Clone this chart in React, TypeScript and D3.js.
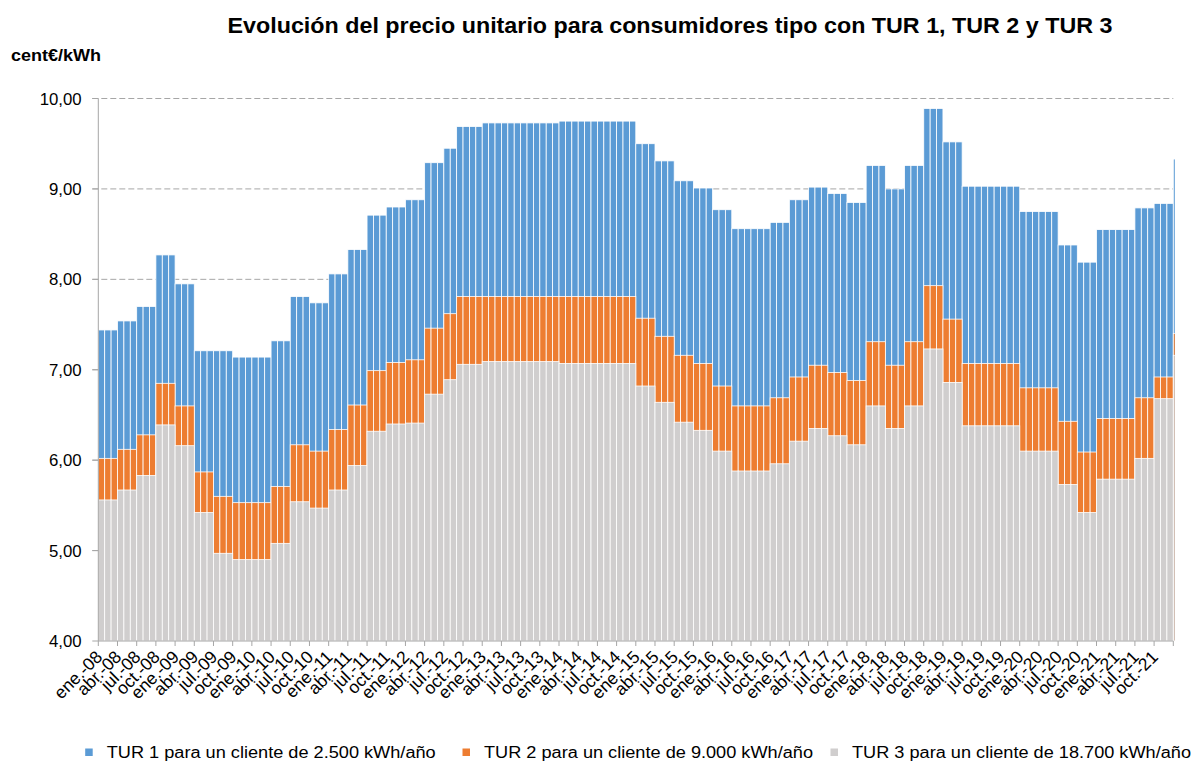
import React from 'react';
import * as d3 from 'd3';

const monthNames = ['ene.', 'feb.', 'mar.', 'abr.', 'may.', 'jun.', 'jul.', 'ago.', 'sep.', 'oct.', 'nov.', 'dic.'];
const years = ['08', '09', '10', '11', '12', '13', '14', '15', '16', '17', '18', '19', '20', '21', '22'];
const months: string[] = years.flatMap((y) => monthNames.map((m) => `${m}-${y}`)).slice(0, 169);

// TUR 1 – 2.500 kWh/año (cent€/kWh), monthly
const tur1 = [
  7.44, 7.44, 7.44, 7.54, 7.54, 7.54, 7.70, 7.70, 7.70, 8.27, 8.27, 8.27,
  7.95, 7.95, 7.95, 7.21, 7.21, 7.21, 7.21, 7.21, 7.21, 7.14, 7.14, 7.14,
  7.14, 7.14, 7.14, 7.32, 7.32, 7.32, 7.81, 7.81, 7.81, 7.74, 7.74, 7.74,
  8.06, 8.06, 8.06, 8.33, 8.33, 8.33, 8.71, 8.71, 8.71, 8.80, 8.80, 8.80,
  8.88, 8.88, 8.88, 9.29, 9.29, 9.29, 9.45, 9.45, 9.69, 9.69, 9.69, 9.69,
  9.73, 9.73, 9.73, 9.73, 9.73, 9.73, 9.73, 9.73, 9.73, 9.73, 9.73, 9.73,
  9.75, 9.75, 9.75, 9.75, 9.75, 9.75, 9.75, 9.75, 9.75, 9.75, 9.75, 9.75,
  9.50, 9.50, 9.50, 9.31, 9.31, 9.31, 9.09, 9.09, 9.09, 9.01, 9.01, 9.01,
  8.77, 8.77, 8.77, 8.56, 8.56, 8.56, 8.56, 8.56, 8.56, 8.63, 8.63, 8.63,
  8.88, 8.88, 8.88, 9.02, 9.02, 9.02, 8.95, 8.95, 8.95, 8.85, 8.85, 8.85,
  9.26, 9.26, 9.26, 9.00, 9.00, 9.00, 9.26, 9.26, 9.26, 9.89, 9.89, 9.89,
  9.52, 9.52, 9.52, 9.03, 9.03, 9.03, 9.03, 9.03, 9.03, 9.03, 9.03, 9.03,
  8.75, 8.75, 8.75, 8.75, 8.75, 8.75, 8.38, 8.38, 8.38, 8.19, 8.19, 8.19,
  8.55, 8.55, 8.55, 8.55, 8.55, 8.55, 8.79, 8.79, 8.79, 8.84, 8.84, 8.84,
  9.33,
];

// TUR 2 – 9.000 kWh/año
const tur2 = [
  6.02, 6.02, 6.02, 6.12, 6.12, 6.12, 6.28, 6.28, 6.28, 6.85, 6.85, 6.85,
  6.60, 6.60, 6.60, 5.87, 5.87, 5.87, 5.60, 5.60, 5.60, 5.53, 5.53, 5.53,
  5.53, 5.53, 5.53, 5.71, 5.71, 5.71, 6.17, 6.17, 6.17, 6.10, 6.10, 6.10,
  6.34, 6.34, 6.34, 6.61, 6.61, 6.61, 6.99, 6.99, 6.99, 7.08, 7.08, 7.08,
  7.11, 7.11, 7.11, 7.46, 7.46, 7.46, 7.62, 7.62, 7.81, 7.81, 7.81, 7.81,
  7.81, 7.81, 7.81, 7.81, 7.81, 7.81, 7.81, 7.81, 7.81, 7.81, 7.81, 7.81,
  7.81, 7.81, 7.81, 7.81, 7.81, 7.81, 7.81, 7.81, 7.81, 7.81, 7.81, 7.81,
  7.57, 7.57, 7.57, 7.37, 7.37, 7.37, 7.16, 7.16, 7.16, 7.07, 7.07, 7.07,
  6.82, 6.82, 6.82, 6.60, 6.60, 6.60, 6.60, 6.60, 6.60, 6.69, 6.69, 6.69,
  6.92, 6.92, 6.92, 7.05, 7.05, 7.05, 6.97, 6.97, 6.97, 6.88, 6.88, 6.88,
  7.31, 7.31, 7.31, 7.05, 7.05, 7.05, 7.31, 7.31, 7.31, 7.93, 7.93, 7.93,
  7.56, 7.56, 7.56, 7.07, 7.07, 7.07, 7.07, 7.07, 7.07, 7.07, 7.07, 7.07,
  6.80, 6.80, 6.80, 6.80, 6.80, 6.80, 6.43, 6.43, 6.43, 6.09, 6.09, 6.09,
  6.46, 6.46, 6.46, 6.46, 6.46, 6.46, 6.69, 6.69, 6.69, 6.92, 6.92, 6.92,
  7.40,
];

// TUR 3 – 18.700 kWh/año
const tur3 = [
  5.56, 5.56, 5.56, 5.67, 5.67, 5.67, 5.83, 5.83, 5.83, 6.39, 6.39, 6.39,
  6.16, 6.16, 6.16, 5.42, 5.42, 5.42, 4.97, 4.97, 4.97, 4.90, 4.90, 4.90,
  4.90, 4.90, 4.90, 5.08, 5.08, 5.08, 5.54, 5.54, 5.54, 5.47, 5.47, 5.47,
  5.67, 5.67, 5.67, 5.94, 5.94, 5.94, 6.32, 6.32, 6.32, 6.40, 6.40, 6.40,
  6.41, 6.41, 6.41, 6.73, 6.73, 6.73, 6.89, 6.89, 7.06, 7.06, 7.06, 7.06,
  7.09, 7.09, 7.09, 7.09, 7.09, 7.09, 7.09, 7.09, 7.09, 7.09, 7.09, 7.09,
  7.07, 7.07, 7.07, 7.07, 7.07, 7.07, 7.07, 7.07, 7.07, 7.07, 7.07, 7.07,
  6.82, 6.82, 6.82, 6.64, 6.64, 6.64, 6.42, 6.42, 6.42, 6.33, 6.33, 6.33,
  6.10, 6.10, 6.10, 5.88, 5.88, 5.88, 5.88, 5.88, 5.88, 5.96, 5.96, 5.96,
  6.21, 6.21, 6.21, 6.35, 6.35, 6.35, 6.27, 6.27, 6.27, 6.17, 6.17, 6.17,
  6.60, 6.60, 6.60, 6.35, 6.35, 6.35, 6.60, 6.60, 6.60, 7.23, 7.23, 7.23,
  6.86, 6.86, 6.86, 6.38, 6.38, 6.38, 6.38, 6.38, 6.38, 6.38, 6.38, 6.38,
  6.10, 6.10, 6.10, 6.10, 6.10, 6.10, 5.73, 5.73, 5.73, 5.42, 5.42, 5.42,
  5.79, 5.79, 5.79, 5.79, 5.79, 5.79, 6.02, 6.02, 6.02, 6.68, 6.68, 6.68,
  7.16,
];

const yTicks = [4, 5, 6, 7, 8, 9, 10];
const seriesNames = [
  'TUR 1 para un cliente de 2.500 kWh/año',
  'TUR 2 para un cliente de 9.000 kWh/año',
  'TUR 3 para un cliente de 18.700 kWh/año',
];
const seriesColors = ['#5B9BD5', '#ED7D31', '#D0CECE'];
const title = 'Evolución del precio unitario para consumidores tipo con TUR 1, TUR 2 y TUR 3';
const unitLabel = 'cent€/kWh';

const W = 1195;
const H = 762;
const left = 98.3;
const right = 1173.3;
const top = 98.5;
const bottom = 641;
const shownMonths = 168;
const FONT = '"Liberation Sans", Arial, sans-serif';

export default function App() {
  const step = (right - left) / shownMonths;
  const x = d3
    .scaleBand<string>()
    .domain(months)
    .range([left, left + step * months.length])
    .padding(0);
  const y = d3.scaleLinear().domain([4, 10]).range([bottom, top]);
  const fmt = (v: number) => d3.format('.2f')(v).replace('.', ',');

  const series = [tur1, tur2, tur3];
  const tickIdx = d3.range(0, shownMonths + 1, 3);
  const labelIdx = d3.range(0, shownMonths, 3);

  const legendX = [106.7, 484, 852];
  const legendLen = [329, 329, 339];

  return (
    <svg
      width={W}
      height={H}
      style={{ position: 'absolute', left: 0, top: 0, fontFamily: FONT }}
    >
      <defs>
        <clipPath id="plotClip">
          <rect x={left} y={0} width={right - left + 1.5} height={bottom} />
        </clipPath>
      </defs>
      <rect width={W} height={H} fill="#fff" />
      <text
        x={227.5}
        y={33.3}
        fontWeight="bold"
        fontSize={21.5}
        fill="#000"
        textLength={885}
        lengthAdjust="spacingAndGlyphs"
      >
        {title}
      </text>
      <text
        x={11}
        y={61}
        fontWeight="bold"
        fontSize={16.5}
        fill="#000"
        textLength={90}
        lengthAdjust="spacingAndGlyphs"
      >
        {unitLabel}
      </text>

      {/* gridlines */}
      {yTicks.slice(1).map((t) => (
        <line
          key={t}
          x1={left - 6}
          x2={right}
          y1={y(t)}
          y2={y(t)}
          stroke="#A6A6A6"
          strokeWidth={1}
          strokeDasharray="6,3"
        />
      ))}

      {/* bars: TUR1 behind, TUR3 in front */}
      <g clipPath="url(#plotClip)">
        {series.map((vals, s) => (
          <g key={s}>
            {vals.map((v, i) => (
              <rect
                key={i}
                x={x(months[i])}
                y={y(v)}
                width={x.bandwidth()}
                height={bottom - y(v)}
                fill={seriesColors[s]}
                stroke="#fff"
                strokeWidth={0.8}
              />
            ))}
          </g>
        ))}
      </g>

      {/* axes */}
      <line x1={left} x2={left} y1={top} y2={bottom} stroke="#A6A6A6" strokeWidth={1} />
      {yTicks.map((t) => (
        <g key={t}>
          <line x1={left - 6} x2={left} y1={y(t)} y2={y(t)} stroke="#A6A6A6" strokeWidth={1} />
          <text x={81.7} y={y(t)} dy="0.36em" textAnchor="end" fontSize={16.8} fill="#000">
            {fmt(t)}
          </text>
        </g>
      ))}
      <line x1={left} x2={right} y1={bottom} y2={bottom} stroke="#A6A6A6" strokeWidth={1} />
      {tickIdx.map((i) => {
        const xx = left + i * step;
        return <line key={i} x1={xx} x2={xx} y1={bottom} y2={bottom + 5} stroke="#A6A6A6" strokeWidth={1} />;
      })}
      {labelIdx.map((i) => {
        const cx = (x(months[i]) as number) + x.bandwidth() / 2 + 1.8;
        const cy = bottom + 17;
        return (
          <text
            key={i}
            x={cx}
            y={cy}
            textAnchor="end"
            fontSize={17.5}
            fill="#000"
            transform={`rotate(-45 ${cx} ${cy})`}
          >
            {months[i]}
          </text>
        );
      })}

      {/* legend */}
      {seriesNames.map((n, s) => (
        <g key={n}>
          <rect x={legendX[s] - 21.5} y={748.5} width={7.5} height={7.5} fill={seriesColors[s]} />
          <text
            x={legendX[s]}
            y={757.5}
            fontSize={15.8}
            fill="#000"
            textLength={legendLen[s]}
            lengthAdjust="spacingAndGlyphs"
          >
            {n}
          </text>
        </g>
      ))}
    </svg>
  );
}
